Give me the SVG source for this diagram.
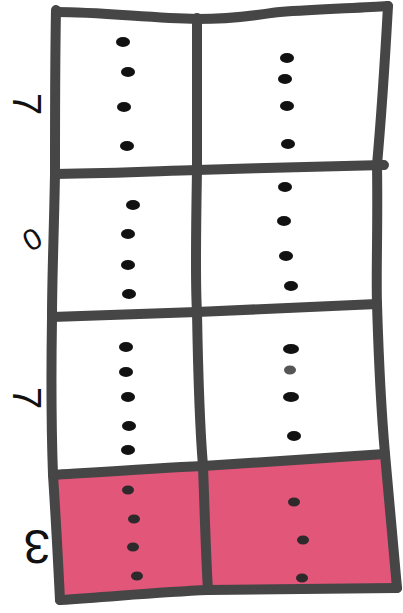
<svg xmlns="http://www.w3.org/2000/svg" width="403" height="613" viewBox="0 0 403 613">
<style>
.ln{fill:none;stroke:#464646;stroke-width:10;stroke-linecap:round;stroke-linejoin:round}
.dot{fill:#111}
.rdot{fill:#2e2a2b}
.lbl{font-family:"Liberation Sans",Arial,sans-serif;fill:#111;text-anchor:middle}
</style>
<rect width="403" height="613" fill="#fff"/>
<g id="fill">
<path d="M53,475 C100,472 160,468 203,466 C270,462 330,458 385,454 C390,510 394,550 397,588 C340,589 280,589 208,590 C160,592 120,596 60,600 C58,560 56,520 53,475 Z" fill="#e2567a"/>
</g>
<g id="grid">
<path class="ln" d="M56,12 C100,12 150,18 197,19 C240,19 260,14 280,12 C320,9 360,8 388,6"/>
<path class="ln" d="M55,174 C120,173 160,171 197,170 C260,168 330,166 384,165"/>
<path class="ln" d="M52,317 C110,315 160,313 197,312 C260,309 320,306 377,304"/>
<path class="ln" d="M53,475 C100,472 160,468 203,466 C270,462 330,458 385,454"/>
<path class="ln" d="M60,600 C120,596 160,592 208,590 C280,589 340,589 397,588"/>
<path class="ln" d="M56,10 C55,60 55,120 55,174 C54,230 52,280 52,317 C51,380 51,420 53,475 C56,520 58,560 60,600"/>
<path class="ln" d="M197,18 C197,80 197,130 197,170 C196,230 195,280 197,312 C198,370 200,430 203,466 C205,520 206,560 208,590"/>
<path class="ln" d="M388,6 C385,60 381,120 377,165 C378,230 376,270 377,304 C379,370 382,420 385,454 C390,510 394,550 397,588"/>
</g>
<g id="dots">
<ellipse class="dot" cx="123" cy="42" rx="7" ry="5"/>
<ellipse class="dot" cx="128" cy="72" rx="7" ry="5"/>
<ellipse class="dot" cx="124" cy="107" rx="7" ry="5"/>
<ellipse class="dot" cx="127" cy="146" rx="7" ry="5"/>
<ellipse class="dot" cx="287" cy="58" rx="7" ry="5"/>
<ellipse class="dot" cx="285" cy="79" rx="7" ry="5"/>
<ellipse class="dot" cx="287" cy="106" rx="7" ry="5"/>
<ellipse class="dot" cx="288" cy="144" rx="7" ry="5"/>
<ellipse class="dot" cx="133" cy="205" rx="7" ry="5"/>
<ellipse class="dot" cx="128" cy="234" rx="7" ry="5"/>
<ellipse class="dot" cx="128" cy="265" rx="7" ry="5"/>
<ellipse class="dot" cx="129" cy="294" rx="7" ry="5"/>
<ellipse class="dot" cx="285" cy="187" rx="7" ry="5"/>
<ellipse class="dot" cx="284" cy="221" rx="7" ry="5"/>
<ellipse class="dot" cx="286" cy="256" rx="7" ry="5"/>
<ellipse class="dot" cx="291" cy="286" rx="7" ry="5"/>
<ellipse class="dot" cx="126" cy="347" rx="7" ry="5"/>
<ellipse class="dot" cx="126" cy="372" rx="7" ry="5"/>
<ellipse class="dot" cx="128" cy="397" rx="7" ry="5"/>
<ellipse class="dot" cx="129" cy="426" rx="7" ry="5"/>
<ellipse class="dot" cx="128" cy="450" rx="7" ry="5"/>
<ellipse class="dot" cx="291" cy="349" rx="8" ry="5"/>
<ellipse cx="290" cy="370" rx="6" ry="4.5" fill="#555"/>
<ellipse class="dot" cx="291" cy="397" rx="8" ry="5"/>
<ellipse class="dot" cx="294" cy="436" rx="7" ry="5"/>
<ellipse class="rdot" cx="128" cy="490" rx="6" ry="4.5"/>
<ellipse class="rdot" cx="134" cy="519" rx="6" ry="4.5"/>
<ellipse class="rdot" cx="133" cy="547" rx="6" ry="4.5"/>
<ellipse class="rdot" cx="137" cy="576" rx="6" ry="4.5"/>
<ellipse class="rdot" cx="294" cy="502" rx="6" ry="4.5"/>
<ellipse class="rdot" cx="303" cy="540" rx="6" ry="4.5"/>
<ellipse class="rdot" cx="302" cy="578" rx="6" ry="4.5"/>
</g>
<g id="labels">
<text class="lbl" font-size="40" transform="translate(27,104) rotate(90)" dy="0.36em">7</text>
<text class="lbl" font-size="30" transform="translate(32,239) rotate(-30)" dy="0.36em">0</text>
<text class="lbl" font-size="40" transform="translate(27,398) rotate(90)" dy="0.36em">7</text>
<text class="lbl" font-size="48" transform="translate(37,547) rotate(180)" dy="0.36em">3</text>
</g>
</svg>
